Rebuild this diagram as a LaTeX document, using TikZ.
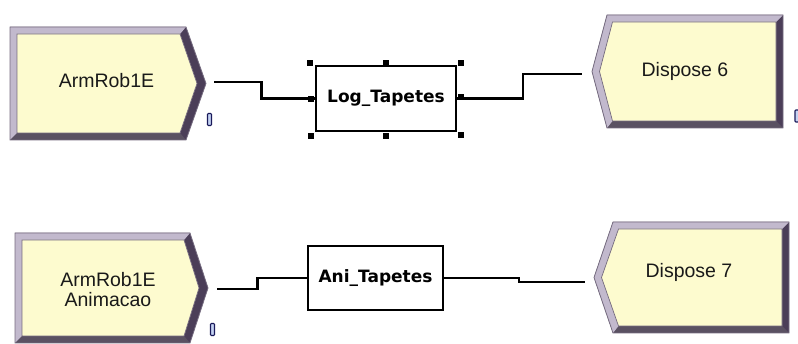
\documentclass[tikz,border=0pt]{standalone}
\usepackage{fontspec}
\setmainfont{Liberation Sans}
\newfontfamily\procfont{DejaVu Sans}
\usetikzlibrary{calc}

\definecolor{bevlight}{HTML}{C2B9CD}
\definecolor{bevdark}{HTML}{4B3E58}
\definecolor{bevmid}{HTML}{5A5162}
\definecolor{face}{HTML}{FDFBCF}
\definecolor{edgeline}{HTML}{766C80}
\definecolor{markfill}{HTML}{C4D2F2}
\definecolor{markedge}{HTML}{1A1A5A}

% Create module: left, top, right, tip, bottom
\newcommand{\createmodule}[5]{%
  \pgfmathsetmacro\cmM{(#2+#5)/2}%
  \pgfmathsetmacro\cmA{#1+7}%
  \pgfmathsetmacro\cmB{#2+7}%
  \pgfmathsetmacro\cmC{#3-6}%
  \pgfmathsetmacro\cmD{#4-9}%
  \pgfmathsetmacro\cmE{#5-7}%
  \fill[bevdark] (#1,#2) -- (#3,#2) -- (#4,\cmM) -- (#3,#5) -- (#1,#5) -- cycle;
  \fill[bevmid] (#1,#5) -- (\cmA,\cmE) -- (\cmC,\cmE) -- (#3,#5) -- cycle;
  \fill[bevlight] (#1,#2) -- (#3,#2) -- (\cmC,\cmB) -- (\cmA,\cmB) -- (\cmA,\cmE) -- (#1,#5) -- cycle;
  \draw[edgeline, line width=0.7pt, fill=face] (\cmA,\cmB) -- (\cmC,\cmB) -- (\cmD,\cmM) -- (\cmC,\cmE) -- (\cmA,\cmE) -- cycle;
  \draw[edgeline, line width=0.8pt] (#1,#2) -- (#3,#2) -- (#4,\cmM) -- (#3,#5) -- (#1,#5) -- cycle;
}

% Dispose module: tip, slant corner, top, right, bottom
\newcommand{\disposemodule}[5]{%
  \pgfmathsetmacro\dmM{(#3+#5)/2}%
  \pgfmathsetmacro\dmA{#1+7.5}%
  \pgfmathsetmacro\dmB{#2+5.5}%
  \pgfmathsetmacro\dmC{#3+7}%
  \pgfmathsetmacro\dmD{#4-7}%
  \pgfmathsetmacro\dmE{#5-7}%
  \fill[bevdark] (#1,\dmM) -- (#2,#3) -- (#4,#3) -- (#4,#5) -- (#2,#5) -- cycle;
  \fill[bevmid] (#2,#5) -- (\dmB,\dmE) -- (\dmD,\dmE) -- (#4,#5) -- cycle;
  \fill[bevlight] (#1,\dmM) -- (#2,#3) -- (#4,#3) -- (\dmD,\dmC) -- (\dmB,\dmC) -- (\dmA,\dmM) -- (\dmB,\dmE) -- (#2,#5) -- cycle;
  \draw[edgeline, line width=0.7pt, fill=face] (\dmA,\dmM) -- (\dmB,\dmC) -- (\dmD,\dmC) -- (\dmD,\dmE) -- (\dmB,\dmE) -- cycle;
  \draw[edgeline, line width=0.8pt] (#1,\dmM) -- (#2,#3) -- (#4,#3) -- (#4,#5) -- (#2,#5) -- cycle;
}

\tikzset{
  modtext/.style={inner sep=0pt, text=black!90, align=center,
    font=\fontsize{19.5}{20}\selectfont},
  procbox/.style={draw=black, line width=2pt, fill=white, inner sep=0pt,
    font=\procfont\bfseries\fontsize{17}{18}\selectfont},
  handle/.style={fill=black, draw=none, minimum size=6pt, inner sep=0pt},
  idmark/.style={draw=markedge, fill=markfill, line width=1.1pt,
    minimum width=4pt, minimum height=12pt, inner sep=0pt, rounded corners=0.8pt},
  link/.style={draw=black, line width=2.2pt},
}

\begin{document}
\begin{tikzpicture}[x=1pt, y=-1pt]
\useasboundingbox (0,0) rectangle (798,344);

% ---- upper flow ----
\createmodule{10}{27}{186}{206}{140}
\node[modtext, anchor=base] (a1) at (106.5,88) {ArmRob1E};
\node[idmark] (m1) at (209.5,119.5) {};
\coordinate (a1out) at (214,82);

\node[procbox, minimum width=140pt, minimum height=65pt] (log) at (386,98.5) {Log\_Tapetes};
\node[handle] (h1) at (310,63) {};
\node[handle] (h2) at (386,63) {};
\node[handle] (h3) at (461,63) {};
\node[handle] (h4) at (311,99) {};
\node[handle] (h5) at (461,97) {};
\node[handle] (h6) at (311,136) {};
\node[handle] (h7) at (386,136) {};
\node[handle] (h8) at (461,135) {};

\disposemodule{592}{607}{15}{783}{128}
\node[modtext, anchor=base] (d6) at (685,77) {Dispose 6};
\node[idmark] (m3) at (797,116) {};
\coordinate (d6in) at (582,74);

\draw[link] (a1out) -| ($(a1out)!0.47!(log.west)$) |- (log.west);
\draw[link] (log.east) -| ($(log.east)!0.53!(d6in)$) |- (d6in);

% ---- lower flow ----
\createmodule{15}{233}{190}{208}{343}
\node[modtext] (a2) at (108,290) {ArmRob1E\\Animacao};
\node[idmark] (m2) at (212.5,329.5) {};
\coordinate (a2out) at (217,289);

\node[procbox, minimum width=135pt, minimum height=64pt] (ani) at (375.5,278) {Ani\_Tapetes};

\disposemodule{594}{613}{222}{789}{333}
\node[modtext, anchor=base] (d7) at (689,278) {Dispose 7};
\coordinate (d7in) at (585,282);

\draw[link] (a2out) -| ($(a2out)!0.45!(ani.west)$) |- (ani.west);
\draw[link] (ani.east) -| ($(ani.east)!0.53!(d7in)$) |- (d7in);
\end{tikzpicture}
\end{document}
